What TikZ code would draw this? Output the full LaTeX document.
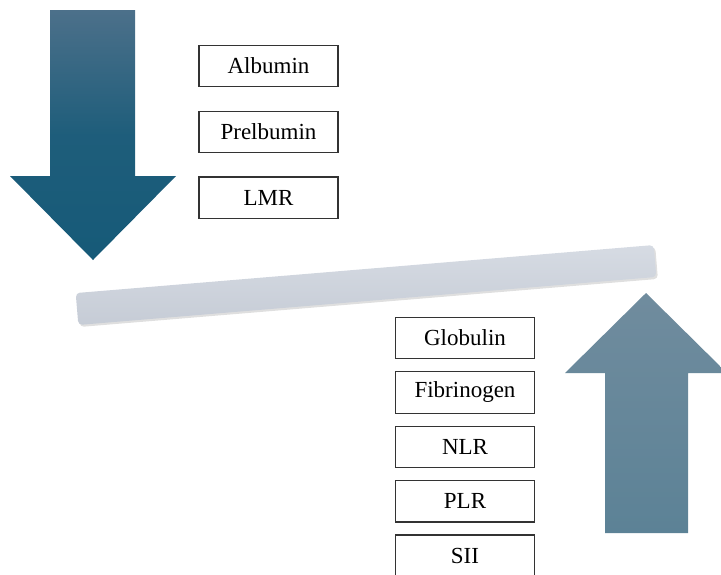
\documentclass[tikz,border=0pt]{standalone}
\usepackage{fontspec}
\setmainfont{Liberation Serif}
\usetikzlibrary{positioning,shadows}
\definecolor{downtop}{RGB}{76,112,138}
\definecolor{downbot}{RGB}{22,90,120}
\definecolor{uptop}{RGB}{112,140,158}
\definecolor{upbot}{RGB}{92,130,150}
\definecolor{beamlight}{RGB}{214,219,227}
\definecolor{beamdark}{RGB}{198,204,214}
\begin{document}
\begin{tikzpicture}[x=0.5pt,y=-0.5pt,node font=\fontsize{11.5}{13}\selectfont,
        box/.style={draw=black!80, line width=0.6pt, fill=white,
        minimum width=69.5pt, minimum height=20.7pt, inner sep=0pt},
        beam/.style={rounded corners=2pt, minimum width=290pt,
        minimum height=16pt, top color=beamlight, bottom color=beamdark,
        drop shadow={opacity=0.25, shadow xshift=0.8pt, shadow yshift=-1pt}}]
        \useasboundingbox (0,0) rectangle (721,574);
        % arrows
        \path[top color=downtop, bottom color=downbot, middle color=downbot!85!downtop]
         (50,10) -- (135,10) -- (135,176) -- (176,176) -- (93,260)
         -- (10,176) -- (50,176) -- cycle;
        \path[top color=uptop, bottom color=upbot]
         (605,533) -- (688,533) -- (688,373) -- (727,373) -- (646,293)
         -- (565,373) -- (605,373) -- cycle;
        % balance
        \node[beam, rotate=4.75] (beam) at (366,285) {};
        % decreased
        \node[box] (albumin) at (268.5,66) {Albumin};
        \node[box, below=11.6pt of albumin] (prealb) {Prelbumin};
        \node[box, below=11.6pt of prealb] (lmr) {LMR};
        % increased
        \node[box] (glob) at (465,338) {Globulin};
        \node[box, below=5.9pt of glob] (fib) {Fibrinogen};
        \node[box, below=5.9pt of fib] (nlr) {NLR};
        \node[box, below=5.9pt of nlr] (plr) {PLR};
        \node[box, below=5.9pt of plr] (sii) {SII};
\end{tikzpicture}
\end{document}
